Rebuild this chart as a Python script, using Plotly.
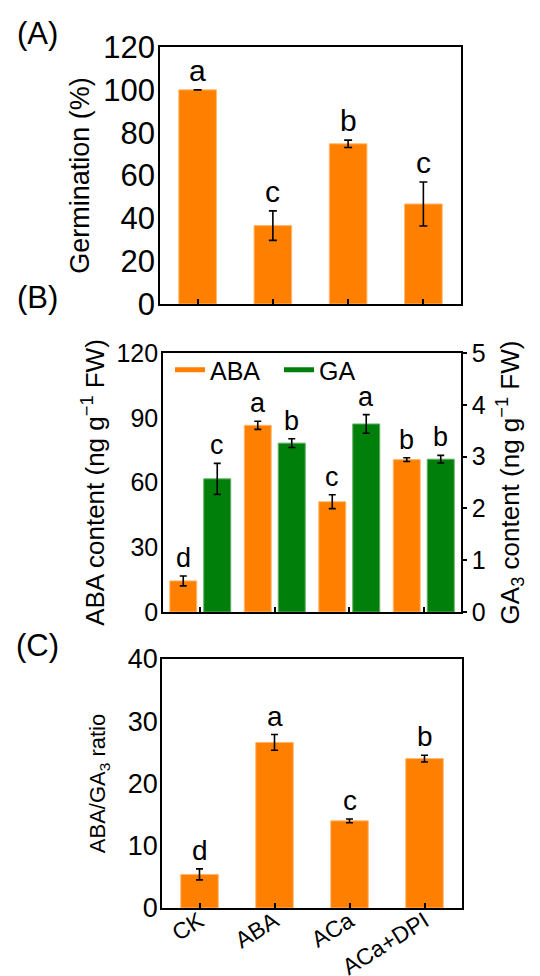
import plotly.graph_objects as go

categories = ["CK", "ABA", "ACa", "ACa+DPI"]

germination = [100, 36.6, 74.8, 46.7]
germination_err = [0, 6.9, 1.7, 10.3]
germination_letters = ["a", "c", "b", "c"]

aba_content = [14.4, 86.5, 51.1, 70.6]
aba_err = [2.3, 1.9, 3.2, 0.9]
aba_letters = ["d", "a", "c", "b"]

ga_content = [2.57, 3.26, 3.63, 2.95]
ga_err = [0.30, 0.084, 0.18, 0.074]
ga_letters = ["c", "b", "a", "b"]

ratio = [5.4, 26.6, 14.0, 24.0]
ratio_err = [0.88, 1.26, 0.3, 0.54]
ratio_letters = ["d", "a", "c", "b"]

ORANGE = "#FF8000"
ORANGE_EDGE = "#FFB870"
GREEN = "#007F0A"
GREEN_EDGE = "#5FAF5F"
FONT = "Liberation Sans, Arial, sans-serif"

W, H = 540, 976
PAGE_OFF = 8  # default page margin around the plot div

def px_x(p):
    return (p - PAGE_OFF) / W

def px_y(p):
    return (H - (p - PAGE_OFF)) / H

fig = go.Figure()

def err(vals, w=4, th=1.6):
    return dict(type="data", array=vals, visible=True, color="black", thickness=th, width=w)

# Panel A
fig.add_trace(go.Bar(x=categories, y=germination, error_y=err(germination_err),
                     marker=dict(color=ORANGE, line=dict(color=ORANGE_EDGE, width=1)),
                     width=0.5, xaxis="x", yaxis="y", showlegend=False))

# Panel B
bw = 0.362
off = 0.228
fig.add_trace(go.Bar(x=categories, y=aba_content, error_y=err(aba_err, w=3.5),
                     marker=dict(color=ORANGE, line=dict(color=ORANGE_EDGE, width=1)),
                     width=bw, offset=-off - bw / 2, xaxis="x2", yaxis="y2",
                     name="ABA", showlegend=False, legendgroup="ABA"))
fig.add_trace(go.Bar(x=categories, y=ga_content, error_y=err(ga_err, w=3.5),
                     marker=dict(color=GREEN, line=dict(color=GREEN_EDGE, width=1)),
                     width=bw, offset=off - bw / 2, xaxis="x2", yaxis="y3",
                     name="GA", showlegend=False, legendgroup="GA"))
# legend entries (wide rectangular keys)
fig.add_trace(go.Scatter(x=[None], y=[None], mode="lines", name="ABA",
                         line=dict(color=ORANGE, width=10), xaxis="x2", yaxis="y2",
                         legendgroup="ABA"))
fig.add_trace(go.Scatter(x=[None], y=[None], mode="lines", name="GA",
                         line=dict(color=GREEN, width=10), xaxis="x2", yaxis="y2",
                         legendgroup="GA"))

# Panel C
fig.add_trace(go.Bar(x=categories, y=ratio, error_y=err(ratio_err, w=3.5),
                     marker=dict(color=ORANGE, line=dict(color=ORANGE_EDGE, width=1)),
                     width=0.5, xaxis="x3", yaxis="y4", showlegend=False))

annotations = []

def letters(xref, yref, xs, tops, labels, size):
    for xv, t, lab in zip(xs, tops, labels):
        annotations.append(dict(x=xv, y=t, xref=xref, yref=yref, text=lab,
                                showarrow=False, yanchor="bottom", yshift=1,
                                font=dict(family=FONT, size=size, color="black")))

idx = list(range(len(categories)))
letters("x", "y", idx, [v + e for v, e in zip(germination, germination_err)], germination_letters, 30)
letters("x2", "y2", [i - off for i in idx], [v + e for v, e in zip(aba_content, aba_err)], aba_letters, 27)
letters("x2", "y3", [i + off for i in idx], [v + e for v, e in zip(ga_content, ga_err)], ga_letters, 27)
letters("x3", "y4", idx, [v + e for v, e in zip(ratio, ratio_err)], ratio_letters, 28)

for lab, yc in [("(A)", 33), ("(B)", 298), ("(C)", 645)]:
    annotations.append(dict(x=px_x(37), y=px_y(yc), xref="paper", yref="paper", text=lab,
                            showarrow=False, xanchor="center", yanchor="middle",
                            font=dict(family=FONT, size=31, color="black")))

axis_common = dict(showline=True, linecolor="black", linewidth=1.6, mirror=True,
                   showgrid=False, zeroline=False, automargin=False)

xcat = dict(axis_common, type="category", range=[-0.5, 3.5], ticks="inside", ticklen=5,
            tickwidth=1.5, tickcolor="black")

fig.update_layout(
    template="none",
    width=W, height=H,
    margin=dict(l=0, r=0, t=0, b=0, autoexpand=False),
    paper_bgcolor="white", plot_bgcolor="white",
    font=dict(family=FONT, color="black"),
    barmode="overlay",
    xaxis=dict(xcat, domain=[px_x(160), px_x(461)], anchor="y", showticklabels=False),
    yaxis=dict(axis_common, domain=[px_y(304), px_y(47)], anchor="x", range=[0, 120], dtick=20,
               ticks="", tickfont=dict(size=31), ticklabelstandoff=-3,
               title=dict(text="Germination (%)", font=dict(size=27), standoff=6)),
    xaxis2=dict(xcat, domain=[px_x(163), px_x(461)], anchor="y2", showticklabels=False),
    yaxis2=dict(axis_common, domain=[px_y(612), px_y(353)], anchor="x2", range=[0, 120], dtick=30,
                ticks="", tickfont=dict(size=25), ticklabelstandoff=-2,
                title=dict(text="ABA content (ng g<sup>−1</sup> FW)", font=dict(size=26), standoff=4)),
    yaxis3=dict(showline=True, linecolor="black", linewidth=1.6, showgrid=False, zeroline=False,
                automargin=False,
                overlaying="y2", side="right", anchor="x2", range=[0, 5], dtick=1,
                ticks="outside", ticklen=4, tickwidth=1.5, tickcolor="black", tickfont=dict(size=25),
                title=dict(text="GA<sub>3</sub> content (ng g<sup>−1</sup> FW)", font=dict(size=26), standoff=16)),
    xaxis3=dict(xcat, domain=[px_x(162), px_x(462)], anchor="y4", showticklabels=True,
                tickangle=-32, tickfont=dict(size=23), ticklabelstandoff=-11),
    yaxis4=dict(axis_common, domain=[px_y(908), px_y(659)], anchor="x3", range=[0, 40], dtick=10,
                ticks="", tickfont=dict(size=27), ticklabelstandoff=-3,
                title=dict(text="ABA/GA<sub>3</sub> ratio", font=dict(size=22), standoff=16)),
    legend=dict(orientation="h", x=px_x(170), y=px_y(347), xanchor="left", yanchor="top",
                bgcolor="rgba(0,0,0,0)", font=dict(size=25), itemwidth=30, entrywidth=64,
                tracegroupgap=0, itemsizing="constant"),
    annotations=annotations,
)

fig.write_html("out.html")
